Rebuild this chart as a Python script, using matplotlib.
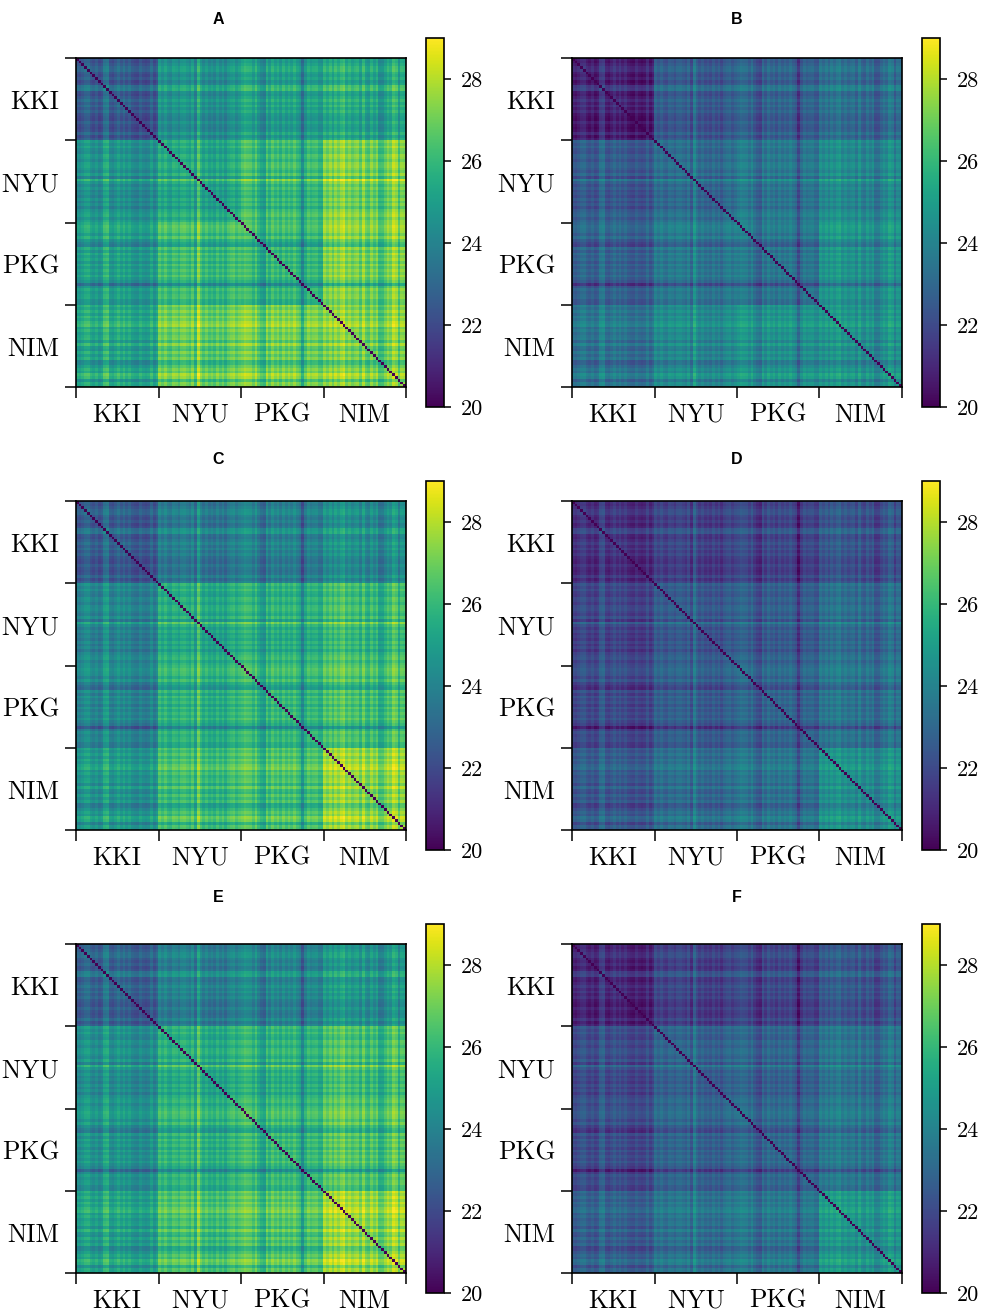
import numpy as np
import matplotlib
matplotlib.use('Agg')
import matplotlib.pyplot as plt
from matplotlib.transforms import ScaledTranslation

sites = ['KKI', 'NYU', 'PKG', 'NIM']
panels = ['A', 'B', 'C', 'D', 'E', 'F']

# per-subject stripe offsets (30 subjects per site)
off_kki = [-.4, -.6, -.2, .3, .4, -.3, -.6, -.1, -.8, -.5, .8, 1.0, -.5, -.7, -.2,
           .4, -.3, .3, -.4, .1, -.6, -.8, -.9, -.2, -.7, -.9, -.7, .2, -.8, -.2]
off_nyu = [.5, -.1, .5, -.2, -.4, .4, .2, -.3, .4, .5, .1, -.3, .6, -.8, 1.6,
           .3, -.4, .2, -.5, -.1, -.6, .2, -.5, .1, -.7, .1, .4, .6, -.1, .4]
off_pkg = [.4, .8, .6, .5, -.2, .7, -.4, -1.0, -1.3, .5, -.4, .6, -.1, .4, -.4,
           .5, -.2, .4, -.1, .6, -.1, -.5, -2.1, -.5, .4, -.1, .2, .3, -.4, -.5]
off_nim = [.5, -.1, .6, -.2, .7, .1, .8, 1.1, -.1, .5, -.2, .2, .4, -.6, .8,
           -.4, -.7, .4, -.4, .3, -1.2, -1.1, -.3, .4, -.1, 1.1, .7, -.8, .4, .2]

# site-by-site block levels for each panel, rows then columns
block_a = [[23.0, 24.7, 25.2, 25.5], [24.7, 25.3, 26.0, 27.0], [25.1, 26.0, 25.8, 27.0], [25.4, 26.7, 26.9, 27.0]]
block_b = [[21.2, 22.7, 22.9, 23.3], [22.7, 23.1, 23.5, 24.1], [22.9, 23.5, 23.4, 24.4], [23.5, 24.1, 24.4, 24.4]]
block_c = [[23.0, 23.8, 24.0, 24.5], [24.2, 25.4, 25.6, 26.0], [24.2, 25.6, 25.8, 26.2], [24.8, 26.0, 26.2, 27.3]]
block_d = [[21.6, 21.9, 22.0, 22.4], [22.0, 22.5, 22.6, 23.1], [22.1, 22.6, 22.8, 23.3], [22.6, 23.1, 23.3, 24.3]]
block_e = [[23.2, 24.0, 24.2, 24.8], [24.6, 25.5, 25.7, 26.2], [24.7, 25.7, 25.9, 26.4], [25.2, 26.2, 26.4, 27.4]]
block_f = [[21.3, 21.9, 22.0, 22.5], [22.2, 22.8, 22.8, 23.3], [22.2, 22.8, 22.9, 23.4], [22.8, 23.3, 23.4, 24.6]]
blocks = [block_a, block_b, block_c, block_d, block_e, block_f]
stripe = [0.85, 0.7, 0.8, 0.65, 0.8, 0.65]

off = np.array(off_kki + off_nyu + off_pkg + off_nim)
n = len(off)
site_of = np.repeat(np.arange(4), 30)

W, H = 981, 1312


def px_axes(fig, x0, y0, x1, y1):
    return fig.add_axes([x0 / W, 1 - y1 / H, (x1 - x0) / W, (y1 - y0) / H])


fig = plt.figure(figsize=(W / 100, H / 100), dpi=100)
lefts = [76, 572]
tops = [58, 501, 944]
title_x = [218, 737]
title_y = [19, 459, 898]

for k, name in enumerate(panels):
    row, col = k // 2, k % 2
    x0, y0 = lefts[col], tops[row]
    ax = px_axes(fig, x0, y0, x0 + 330, y0 + 329)
    b = np.array(blocks[k])
    mat = b[np.ix_(site_of, site_of)] + stripe[k] * (off[:, None] + off[None, :])
    np.fill_diagonal(mat, 20)
    im = ax.imshow(mat, cmap='viridis', vmin=20, vmax=29, extent=[0, n, n, 0],
                   aspect='auto', interpolation='nearest')
    ax.set_xticks([0, 30, 60, 90, 120])
    ax.set_yticks([0, 30, 60, 90, 120])
    ax.set_xticklabels([])
    ax.set_yticklabels([])
    ax.set_xticks([15, 45, 75, 105], minor=True)
    ax.set_yticks([15, 45, 75, 105], minor=True)
    ax.set_xticklabels(sites, minor=True, family='cmr10', fontsize=18.5, va='baseline')
    ax.set_yticklabels(sites, minor=True, family='cmr10', fontsize=18.5, va='center_baseline')
    ax.tick_params(which='major', length=8, width=1.1)
    ax.tick_params(axis='x', which='minor', length=0, pad=25)
    ax.tick_params(axis='y', which='minor', length=0, pad=12)
    shift = ScaledTranslation(0, -1 / 100, fig.dpi_scale_trans)
    for t in ax.get_yticklabels(minor=True):
        t.set_transform(t.get_transform() + shift)
    for s in ax.spines.values():
        s.set_linewidth(1.2)

    cax = px_axes(fig, x0 + 350, y0 - 20, x0 + 368, y0 + 349)
    cb = fig.colorbar(im, cax=cax)
    cb.set_ticks([20, 22, 24, 26, 28])
    cb.ax.tick_params(length=5, width=1.1, labelsize=16, pad=7)
    cb.outline.set_linewidth(1.2)
    for t in cb.ax.get_yticklabels():
        t.set_family('cmr10')

    fig.text(title_x[col] / W, 1 - title_y[row] / H, name, family='Liberation Sans',
             fontweight='bold', fontsize=11.5, ha='center', va='center')

plt.savefig('out.png', dpi=100)
